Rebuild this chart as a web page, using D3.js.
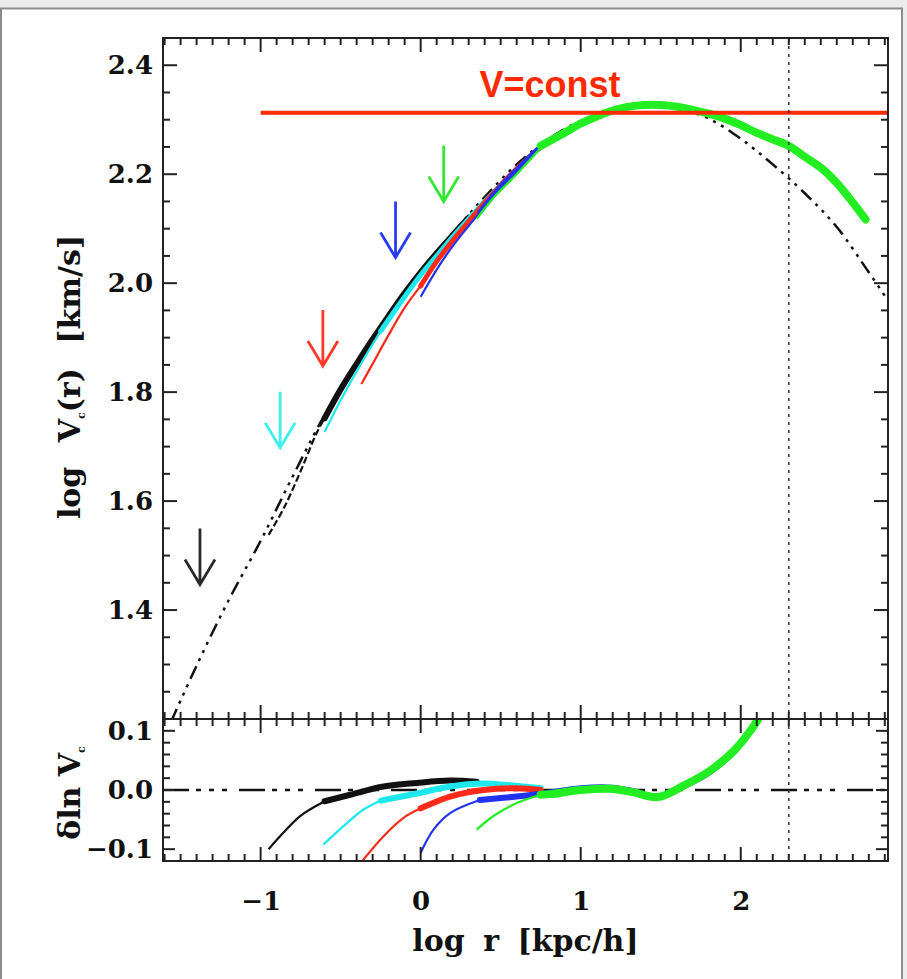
<!DOCTYPE html>
<html><head><meta charset="utf-8">
<script src="https://cdn.jsdelivr.net/npm/d3@7"></script>
<style>body{margin:0;background:#fff}svg{display:block}</style>
</head><body>
<svg id="c" width="907" height="979"></svg>
<script>
// ---------------- DATA ----------------
const xTickValues = [-1, 0, 1, 2];
const xTickLabels = ["\u22121", "0", "1", "2"];
const yTopTickValues = [1.4, 1.6, 1.8, 2.0, 2.2, 2.4];
const yTopTickLabels = ["1.4", "1.6", "1.8", "2.0", "2.2", "2.4"];
const yBotTickValues = [-0.1, 0.0, 0.1];
const yBotTickLabels = ["\u22120.1", "0.0", "0.1"];

const vConstValue = 2.313;     // log V of horizontal V=const line
const vConstStart = -1.0;      // log r where it begins
const rVirLog = 2.3;           // vertical dotted line

// analytic fit (dash-dot-dot-dot), [log r, log V]
const fitCurve = [[-1.56,1.195],[-1.4,1.298],[-1.2,1.418],[-1.0,1.527],[-0.8,1.645],[-0.6,1.758],
  [-0.4,1.852],[-0.2,1.942],[0,2.022],[0.2,2.092],[0.4,2.158],[0.6,2.218],[0.8,2.265],[1.0,2.298],
  [1.2,2.318],[1.4,2.327],[1.6,2.322],[1.8,2.302],[2.0,2.265],[2.2,2.218],[2.4,2.165],[2.6,2.103],
  [2.8,2.020],[2.92,1.968]];

// simulations, top panel [log r, log V]
const blackTopThin  = [[-0.95,1.538],[-0.85,1.590],[-0.75,1.655],[-0.65,1.725],[-0.6,1.752]];
const blackTopThick = [[-0.6,1.752],[-0.5,1.805],[-0.4,1.852],[-0.3,1.897],[-0.2,1.940],[-0.1,1.982],[0,2.020],[0.1,2.055],[0.2,2.088],[0.3,2.120]];
const cyanTopThin   = [[-0.6,1.727],[-0.5,1.785],[-0.4,1.838],[-0.3,1.888],[-0.25,1.912]];
const cyanTopThick  = [[-0.25,1.912],[-0.1,1.975],[0,2.015],[0.1,2.050],[0.2,2.085],[0.3,2.118],[0.4,2.150],[0.55,2.195]];
const redTopThin    = [[-0.37,1.815],[-0.3,1.852],[-0.2,1.905],[-0.1,1.955],[0,1.995]];
const redTopThick   = [[0,1.995],[0.1,2.040],[0.2,2.078],[0.3,2.113],[0.4,2.148],[0.5,2.180],[0.6,2.210],[0.75,2.250]];
const blueTopThin   = [[0,1.975],[0.1,2.025],[0.2,2.068],[0.37,2.130]];
const blueTopThick  = [[0.37,2.130],[0.5,2.178],[0.6,2.208],[0.75,2.250],[0.9,2.276]];
const greenTopThin  = [[0.35,2.118],[0.45,2.155],[0.6,2.200],[0.75,2.248]];
const greenTopThick = [[0.75,2.252],[0.9,2.276],[1.0,2.293],[1.1,2.306],[1.2,2.317],[1.3,2.324],[1.4,2.327],
  [1.5,2.327],[1.6,2.324],[1.7,2.318],[1.8,2.311],[1.9,2.302],[2.0,2.290],[2.1,2.276],[2.2,2.264],
  [2.3,2.252],[2.4,2.232],[2.5,2.212],[2.6,2.184],[2.7,2.148],[2.78,2.117]];

// simulations, bottom panel [log r, delta ln V]
const blackBotThin  = [[-0.95,-0.100],[-0.857,-0.072],[-0.753,-0.044],[-0.6,-0.019]];
const blackBotThick = [[-0.6,-0.019],[-0.44,-0.008],[-0.232,0.006],[-0.024,0.012],[0.184,0.016],[0.35,0.014]];
const cyanBotThin   = [[-0.607,-0.092],[-0.482,-0.061],[-0.357,-0.033],[-0.25,-0.018]];
const cyanBotThick  = [[-0.25,-0.018],[-0.024,-0.006],[0.184,0.006],[0.393,0.011],[0.56,0.008],[0.75,0.003]];
const redBotThin    = [[-0.38,-0.125],[-0.232,-0.078],[-0.107,-0.047],[0,-0.031]];
const redBotThick   = [[0,-0.031],[0.184,-0.011],[0.393,0.0],[0.6,0.003],[0.75,0.0]];
const blueBotThin   = [[0,-0.106],[0.08,-0.067],[0.184,-0.039],[0.37,-0.017]];
const blueBotThick  = [[0.37,-0.017],[0.6,-0.011],[0.77,-0.006],[1.0,0.003],[1.2,0.004],[1.33,-0.002],[1.48,-0.011],[1.64,0.006],[1.81,0.031],[1.96,0.066],[2.06,0.1],[2.1,0.118]];
const greenBotThin  = [[0.35,-0.067],[0.455,-0.044],[0.6,-0.022],[0.75,-0.008]];
const greenBotThick = [[0.75,-0.008],[0.81,-0.007],[1.0,0.0],[1.18,0.002],[1.33,-0.004],[1.48,-0.012],[1.64,0.007],[1.81,0.033],[1.96,0.067],[2.06,0.1],[2.11,0.12]];

// convergence arrows: log r and log V of the tip
const arrowNames   = ["black","cyan","red","blue","green"];
const arrowLogR    = [-1.379, -0.878, -0.611, -0.157, 0.144];
const arrowTipLogV = [1.447, 1.698, 1.848, 2.047, 2.150];

// ---------------- STYLE / LAYOUT ----------------
const colors = {black:"#111111", cyan:"#1ee8ec", red:"#ff2a1a", blue:"#2233ee", green:"#22ee22"};
const arrowColors = {black:"#2a2a2a", cyan:"#3ff0f0", red:"#ff3a2a", blue:"#2a3cf0", green:"#33e833"};
const L = 163, R = 888, T = 38, D = 719, B = 861;
const serif = "'DejaVu Serif', serif";

const svg = d3.select("#c");
// outer frame
svg.append("rect").attr("x",0).attr("y",0).attr("width",907).attr("height",8).attr("fill","#ececec");
svg.append("rect").attr("x",903).attr("y",0).attr("width",4).attr("height",979).attr("fill","#ececec");
svg.append("rect").attr("x",1).attr("y",8.5).attr("width",901).attr("height",990)
  .attr("fill","none").attr("stroke","#8c8c8c").attr("stroke-width",2);

const x = d3.scaleLinear().domain([-1.61, 2.92]).range([L, R]);
const yT = d3.scaleLinear().domain([1.2, 2.45]).range([D, T]);
const yB = d3.scaleLinear().domain([-0.12, 0.12]).range([B, D]);

const defs = svg.append("defs");
defs.append("clipPath").attr("id","clipT").append("rect").attr("x",L).attr("y",T).attr("width",R-L).attr("height",D-T);
defs.append("clipPath").attr("id","clipB").append("rect").attr("x",L).attr("y",D).attr("width",R-L).attr("height",B-D);

const gT = svg.append("g").attr("clip-path","url(#clipT)");
const gB = svg.append("g").attr("clip-path","url(#clipB)");

const lineT = d3.line().x(d=>x(d[0])).y(d=>yT(d[1])).curve(d3.curveCatmullRom.alpha(0.5));
const lineB = d3.line().x(d=>x(d[0])).y(d=>yB(d[1])).curve(d3.curveCatmullRom.alpha(0.5));
const dashDot3 = "14,6,3,6,3,6,3,6";

// fit curve
gT.append("path").datum(fitCurve).attr("d",lineT).attr("fill","none")
  .attr("stroke","#111").attr("stroke-width",2.5).attr("stroke-dasharray",dashDot3);

// zero line bottom
gB.append("line").attr("x1",L).attr("x2",R).attr("y1",yB(0)).attr("y2",yB(0))
  .attr("stroke","#111").attr("stroke-width",2.5).attr("stroke-dasharray","26,7,5,8,5,8,5,12");

const topSets = [
  ["black", blackTopThin, blackTopThick, 6],
  ["cyan", cyanTopThin, cyanTopThick, 5],
  ["red", redTopThin, redTopThick, 5],
  ["blue", blueTopThin, blueTopThick, 5],
  ["green", greenTopThin, greenTopThick, 8]
];
const botSets = [
  ["black", blackBotThin, blackBotThick, 6],
  ["cyan", cyanBotThin, cyanBotThick, 6],
  ["red", redBotThin, redBotThick, 6],
  ["blue", blueBotThin, blueBotThick, 6],
  ["green", greenBotThin, greenBotThick, 8]
];
topSets.forEach(([n, thin, thick, w]) => {
  gT.append("path").datum(thin).attr("d",lineT).attr("fill","none").attr("stroke",colors[n])
    .attr("stroke-width",2.2).attr("stroke-dasharray", n==="black" ? "7,3" : null);
  gT.append("path").datum(thick).attr("d",lineT).attr("fill","none").attr("stroke",colors[n])
    .attr("stroke-width",w).attr("stroke-linecap","round");
});
botSets.forEach(([n, thin, thick, w]) => {
  gB.append("path").datum(thin).attr("d",lineB).attr("fill","none").attr("stroke",colors[n]).attr("stroke-width",2.2);
  gB.append("path").datum(thick).attr("d",lineB).attr("fill","none").attr("stroke",colors[n])
    .attr("stroke-width",w).attr("stroke-linecap","round");
});

// V = const line
svg.append("line").attr("x1",x(vConstStart)).attr("x2",R).attr("y1",yT(vConstValue)).attr("y2",yT(vConstValue))
  .attr("stroke","#ff2a00").attr("stroke-width",4);
svg.append("text").attr("x",550).attr("y",97).attr("text-anchor","middle")
  .attr("font-family","'Liberation Sans', Arial, sans-serif").attr("font-weight","bold")
  .attr("font-size",36).attr("fill","#ff2a00").text("V=const");

// vertical dotted line
svg.append("line").attr("x1",x(rVirLog)).attr("x2",x(rVirLog)).attr("y1",T).attr("y2",B)
  .attr("stroke","#333").attr("stroke-width",1.6).attr("stroke-dasharray","3,5");

// arrows
arrowNames.forEach((n,i) => {
  const ax = x(arrowLogR[i]), ay = yT(arrowTipLogV[i]);
  svg.append("path").attr("d",`M${ax},${ay-56}L${ax},${ay}M${ax-15},${ay-25}L${ax},${ay}L${ax+15},${ay-25}`)
    .attr("fill","none").attr("stroke",arrowColors[n]).attr("stroke-width",2.8);
});

// frames
[[T,D],[D,B]].forEach(([a,b]) => {
  svg.append("rect").attr("x",L).attr("y",a).attr("width",R-L).attr("height",b-a)
    .attr("fill","none").attr("stroke","#222").attr("stroke-width",2);
});

// ticks
const tk = svg.append("g").attr("stroke","#222").attr("stroke-width",2);
const xMinor = d3.range(-16, 30).map(i => i/10);
xMinor.forEach(v => {
  const major = Math.abs(v - Math.round(v)) < 1e-6;
  const len = major ? 14 : 7, px = x(v);
  tk.append("line").attr("x1",px).attr("x2",px).attr("y1",T).attr("y2",T+len);
  tk.append("line").attr("x1",px).attr("x2",px).attr("y1",D-len).attr("y2",D+len);
  tk.append("line").attr("x1",px).attr("x2",px).attr("y1",B).attr("y2",B-len);
});
d3.range(25, 49).map(i => i/20).forEach(v => {
  const major = yTopTickValues.some(t => Math.abs(t-v) < 1e-6);
  const len = major ? 14 : 7, py = yT(v);
  tk.append("line").attr("x1",L).attr("x2",L+len).attr("y1",py).attr("y2",py);
  tk.append("line").attr("x1",R).attr("x2",R-len).attr("y1",py).attr("y2",py);
});
d3.range(-5, 6).map(i => i/50).forEach(v => {
  const major = yBotTickValues.some(t => Math.abs(t-v) < 1e-6);
  const len = major ? 12 : 7, py = yB(v);
  tk.append("line").attr("x1",L).attr("x2",L+len).attr("y1",py).attr("y2",py);
  tk.append("line").attr("x1",R).attr("x2",R-len).attr("y1",py).attr("y2",py);
});

// tick labels via axes
const axX = d3.axisBottom(x).tickValues(xTickValues).tickSize(0).tickPadding(0)
  .tickFormat((d,i) => xTickLabels[i]);
const axYT = d3.axisLeft(yT).tickValues(yTopTickValues).tickSize(0).tickPadding(0)
  .tickFormat((d,i) => yTopTickLabels[i]);
const axYB = d3.axisLeft(yB).tickValues(yBotTickValues).tickSize(0).tickPadding(0)
  .tickFormat((d,i) => yBotTickLabels[i]);
function styleAxis(g){
  g.select(".domain").remove();
  g.selectAll("text").attr("font-family",serif).attr("font-weight","bold").attr("font-size",26).attr("fill","#111");
}
svg.append("g").attr("transform",`translate(0,${B+40})`).call(axX).call(styleAxis)
  .selectAll("text").attr("dy","0.36em");
svg.append("g").attr("transform",`translate(${L-10},0)`).call(axYT).call(styleAxis);
svg.append("g").attr("transform",`translate(${L-10},0)`).call(axYB).call(styleAxis);

// axis titles
svg.append("text").attr("x",(L+R)/2).attr("y",951).attr("text-anchor","middle")
  .attr("font-family",serif).attr("font-weight","bold").attr("font-size",30).attr("fill","#111")
  .attr("word-spacing",8).text("log r [kpc/h]");

const yt = svg.append("text").attr("transform","translate(80,377) rotate(-90)").attr("text-anchor","middle")
  .attr("font-family",serif).attr("font-weight","bold").attr("font-size",30).attr("fill","#111")
  .attr("word-spacing",14);
yt.append("tspan").text("log V");
yt.append("tspan").attr("font-size",11).attr("dy",5).text("c");
yt.append("tspan").attr("dy",-5).text("(r) [km/s]");

const yb = svg.append("text").attr("transform","translate(80,793) rotate(-90)").attr("text-anchor","middle")
  .attr("font-family",serif).attr("font-weight","bold").attr("font-size",30).attr("fill","#111");
yb.append("tspan").text("\u03b4ln V");
yb.append("tspan").attr("font-size",11).attr("dy",5).text("c");
</script>
</body></html>
